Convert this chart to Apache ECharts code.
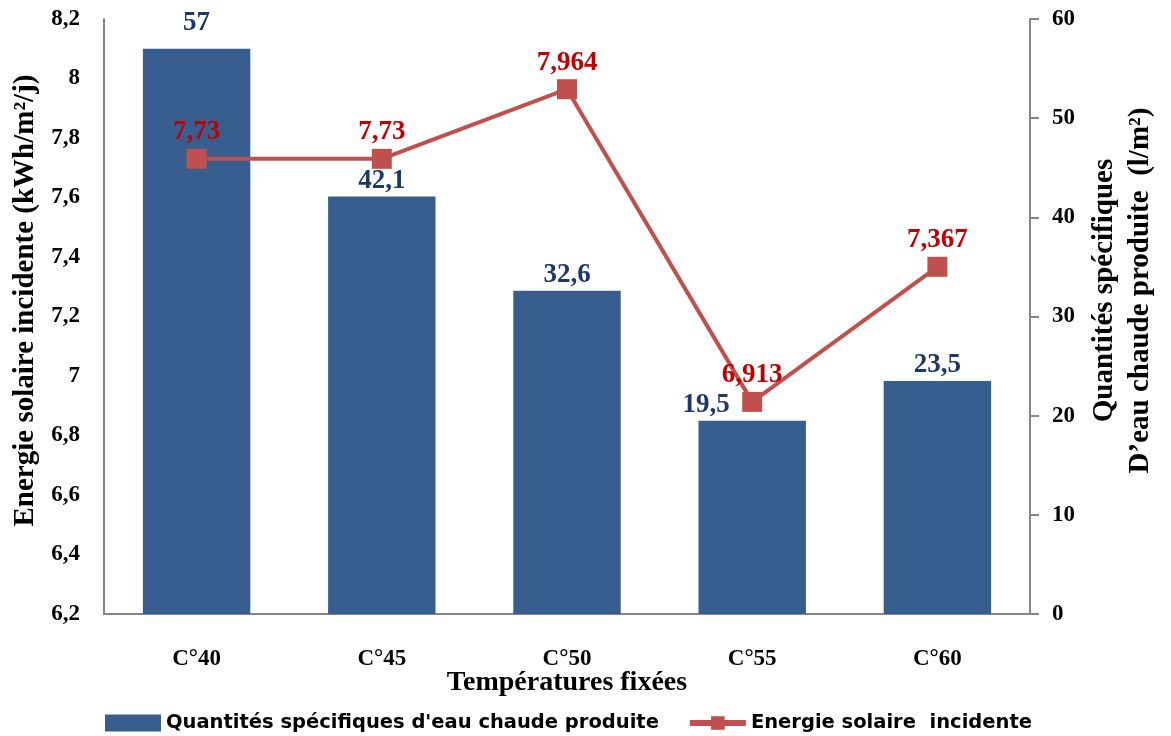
<!DOCTYPE html>
<html><head><meta charset="utf-8">
<script src="https://cdn.jsdelivr.net/npm/echarts@6/dist/echarts.min.js"></script>
<style>html,body{margin:0;padding:0;background:#fff}#c{width:1171px;height:736px}</style>
</head><body><div id="c"></div>
<script>
const categories = ['C°40', 'C°45', 'C°50', 'C°55', 'C°60'];
const quantites = [57, 42.1, 32.6, 19.5, 23.5];
const energie = [7.73, 7.73, 7.964, 6.913, 7.367];
const barName = "Quantités spécifiques d'eau chaude produite";
const lineName = 'Energie solaire  incidente';

const serif = 'Liberation Serif';
const comma = v => String(v).replace('.', ',');
const barLabelOffsets = {0: [0, -10], 3: [-46, 0]};
const chart = echarts.init(document.getElementById('c'));
chart.setOption({
  animation: false,
  grid: {left: 104, right: 141, top: 19, bottom: 122, containLabel: false, outerBoundsMode: 'none'},
  legend: {
    bottom: -2, left: 100, itemGap: 28, itemWidth: 56, itemHeight: 17,
    textStyle: {fontFamily: 'DejaVu Sans', fontWeight: 'bold', fontSize: 19.5, color: '#000'},
    data: [{name: barName, icon: 'rect'}, {name: lineName, lineStyle: {width: 6}}]
  },
  xAxis: {
    type: 'category', data: categories,
    axisLine: {lineStyle: {color: '#868686', width: 2}},
    axisTick: {show: false},
    axisLabel: {fontFamily: serif, fontWeight: 'bold', fontSize: 23, color: '#000', margin: 34},
    name: 'Températures fixées', nameLocation: 'middle', nameGap: 55, nameMoveOverlap: false,
    nameTextStyle: {fontFamily: serif, fontWeight: 'bold', fontSize: 28, color: '#000'}
  },
  yAxis: [
    {
      type: 'value', min: 6.2, max: 8.2, interval: 0.2, position: 'left',
      axisLine: {show: true, lineStyle: {color: '#868686', width: 2}},
      axisTick: {show: false}, splitLine: {show: false},
      axisLabel: {fontFamily: serif, fontWeight: 'bold', fontSize: 23, color: '#000', margin: 24,
        formatter: v => comma(Number(v.toFixed(1)))},
      name: 'Energie solaire incidente (kWh/m²/j)', nameLocation: 'middle', nameGap: 58,
      nameTextStyle: {fontFamily: serif, fontWeight: 'bold', fontSize: 29, color: '#000', padding: [0, 0, 0, 32]}
    },
    {
      type: 'value', min: 0, max: 60, interval: 10, position: 'right',
      axisLine: {show: true, lineStyle: {color: '#868686', width: 2}},
      axisTick: {show: true, inside: false, length: 9, lineStyle: {color: '#868686', width: 2}},
      splitLine: {show: false},
      axisLabel: {fontFamily: serif, fontWeight: 'bold', fontSize: 23, color: '#000', margin: 22},
      name: 'Quantités spécifiques\nD’eau chaude produite  (l/m²)', nameLocation: 'middle', nameGap: 57,
      nameRotate: 90,
      nameTextStyle: {fontFamily: serif, fontWeight: 'bold', fontSize: 29, color: '#000', lineHeight: 36, align: 'center', padding: [0, 0, 0, 52]}
    }
  ],
  series: [
    {
      name: barName, type: 'bar', yAxisIndex: 1,
      data: quantites.map((v, i) => barLabelOffsets[i] ? {value: v, label: {offset: barLabelOffsets[i]}} : v),
      barWidth: '58%', itemStyle: {color: '#385E8F'}, z: 1,
      label: {show: true, position: 'top', distance: 2, fontFamily: serif, fontWeight: 'bold', fontSize: 27, color: '#1F3864',
        formatter: p => comma(p.value)}
    },
    {
      name: lineName, type: 'line', yAxisIndex: 0, data: energie,
      symbol: 'rect', symbolSize: 20, lineStyle: {color: '#C0504D', width: 4},
      itemStyle: {color: '#C0504D'}, z: 3,
      label: {show: true, position: 'top', distance: 3, fontFamily: serif, fontWeight: 'bold', fontSize: 27, color: '#C00000',
        formatter: p => comma(p.value)}
    }
  ]
});
</script></body></html>
